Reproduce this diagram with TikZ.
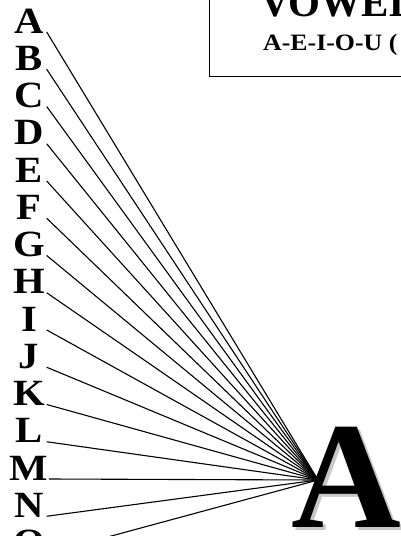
\documentclass[tikz,border=0pt]{standalone}
\usepackage{fontspec}
\setmainfont{Liberation Serif}
\newfontfamily\widefont[FakeStretch=1.1]{Liberation Serif}
\begin{document}
\begin{tikzpicture}[x=1pt,y=-1pt,
  letter/.style={font=\fontsize{37}{37}\selectfont\widefont\bfseries, inner sep=0pt, minimum width=34pt, anchor=base},
  ray/.style={line width=1.1pt},
  bigletter/.style={font=\fontsize{152}{152}\selectfont\bfseries, inner sep=0pt, anchor=base west}]
\useasboundingbox (0,0) rectangle (401,536);
\clip (0,0) rectangle (401,536);
% title box
\draw[line width=1pt] (209,-5) rectangle (420,76);
\node[font=\fontsize{41}{41}\selectfont\bfseries, inner sep=0pt, anchor=base west] (title) at (260,16) {VOWEL};
\node[font=\fontsize{23.5}{23.5}\selectfont\widefont\bfseries, inner sep=0pt, anchor=base west] (sub) at (263,50) {A-E-I-O-U (};
% convergence point
\coordinate (c) at (318,480);
% letters and rays
\foreach \L [count=\i from 0] in {A,B,C,D,E,F,G,H,I,J,K,L,M,N,O} {
  \node[letter] (l\i) at (29,{33+37.25*\i}) {\L};
  \draw[ray] ([xshift=0.5pt,yshift=1pt]l\i.base east) -- (c);
}
% big A with shadow
\node[bigletter, text=black!22] (bigAshadow) at (294.6,530) {A};
\node[bigletter] (bigA) at (291.6,527) {A};
\end{tikzpicture}
\end{document}
